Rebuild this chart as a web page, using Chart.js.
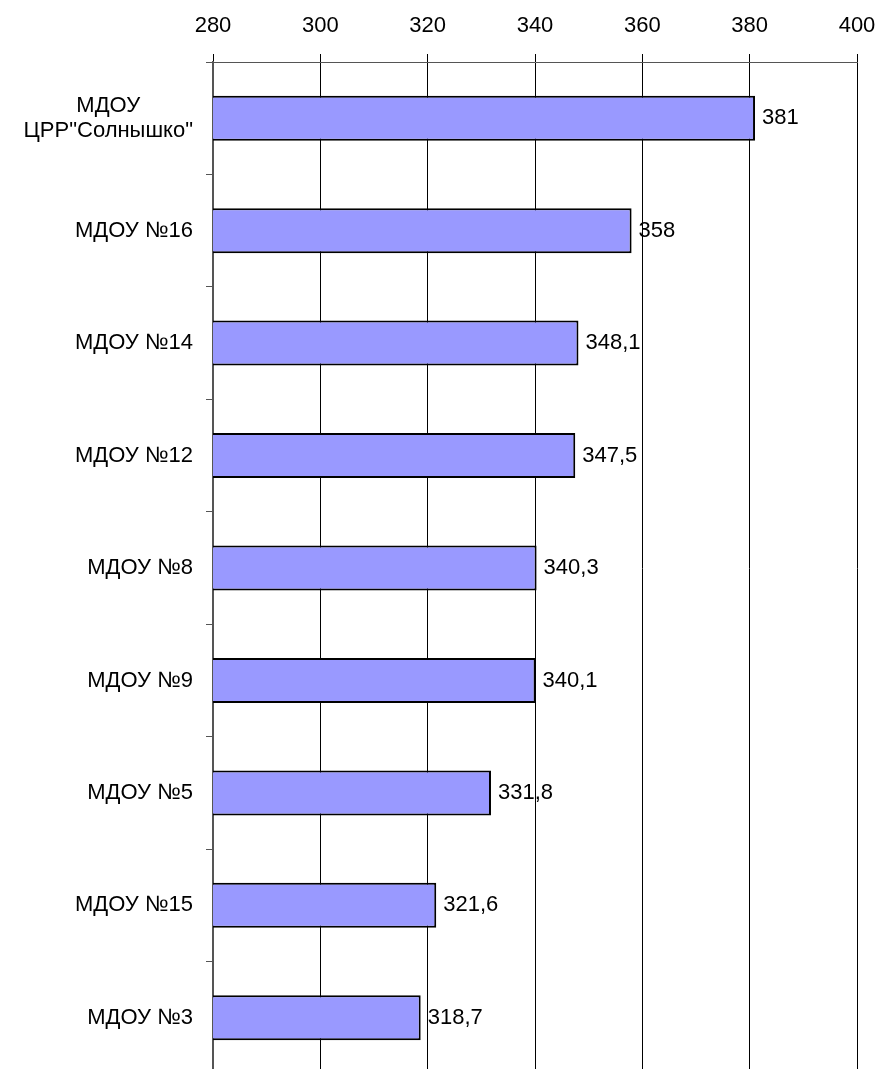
<!DOCTYPE html>
<html>
<head>
<meta charset="utf-8">
<script src="https://cdn.jsdelivr.net/npm/chart.js@4/dist/chart.umd.min.js"></script>
<style>
    html, body { margin: 0; padding: 0; background: #fff; overflow: hidden; }
    canvas { display: block; }
</style>
</head>
<body>
<canvas id="chart" width="879" height="1075"></canvas>
<script>
// Données du graphique
const categories = [
    ['МДОУ', 'ЦРР"Солнышко"'],
    'МДОУ №16',
    'МДОУ №14',
    'МДОУ №12',
    'МДОУ №8',
    'МДОУ №9',
    'МДОУ №5',
    'МДОУ №15',
    'МДОУ №3'
];
const values = [381, 358, 348.1, 347.5, 340.3, 340.1, 331.8, 321.6, 318.7];
const axisMin = 280;
const axisMax = 400;
const axisStep = 20;

const FONT = 'Liberation Sans, Arial, sans-serif';
const TICK_LEN = 7;
const TICK_PAD = 13;

// Étiquettes de valeurs à droite des barres + libellés sur plusieurs lignes centrés
const valueLabels = {
    id: 'valueLabels',
    afterDatasetsDraw(chart) {
        const ctx = chart.ctx;
        const meta = chart.getDatasetMeta(0);
        ctx.save();
        ctx.font = '22px ' + FONT;
        ctx.fillStyle = '#000';
        ctx.textAlign = 'left';
        ctx.textBaseline = 'middle';
        meta.data.forEach((bar, i) => {
            const txt = String(values[i]).replace('.', ',');
            ctx.fillText(txt, bar.x + 7, bar.y);
        });

        // libellés multi-lignes : centrés comme dans Excel
        const yScale = chart.scales.y;
        ctx.textAlign = 'center';
        categories.forEach((cat, i) => {
            if (!Array.isArray(cat)) return;
            const widest = Math.max(...cat.map(l => ctx.measureText(l).width));
            const cx = yScale.right - TICK_LEN - TICK_PAD - widest / 2;
            const cy = yScale.getPixelForTick(i);
            const lh = 25;
            cat.forEach((line, k) => {
                ctx.fillText(line, cx, cy + (k - (cat.length - 1) / 2) * lh);
            });
        });
        ctx.restore();
    }
};

new Chart(document.getElementById('chart'), {
    type: 'bar',
    data: {
        labels: categories,
        datasets: [{
            data: values,
            backgroundColor: '#9999ff',
            borderColor: '#000',
            borderWidth: 2,
            borderSkipped: false,
            categoryPercentage: 1,
            barPercentage: 0.4
        }]
    },
    options: {
        indexAxis: 'y',
        responsive: false,
        animation: false,
        layout: { padding: { left: 0, right: 22, top: 0, bottom: 1 } },
        plugins: {
            legend: { display: false },
            tooltip: { enabled: false }
        },
        scales: {
            x: {
                position: 'top',
                min: axisMin,
                max: axisMax,
                ticks: {
                    stepSize: axisStep,
                    color: '#000',
                    font: { family: FONT, size: 22 },
                    padding: 15
                },
                grid: {
                    color: '#000',
                    lineWidth: 1,
                    tickLength: 8
                },
                border: { color: '#555', width: 1 },
                afterFit(scale) {
                    scale.height = 62;
                    scale.paddingLeft = 0;
                    scale.paddingRight = 0;
                }
            },
            y: {
                offset: true,
                ticks: {
                    color: '#000',
                    font: { family: FONT, size: 22 },
                    padding: TICK_PAD,
                    // les libellés sur plusieurs lignes sont dessinés par le plugin
                    callback: (v, i) => Array.isArray(categories[i]) ? '' : categories[i]
                },
                grid: {
                    offset: true,
                    drawOnChartArea: false,
                    color: '#555',
                    tickLength: TICK_LEN
                },
                border: { color: '#555', width: 2 },
                afterFit(scale) {
                    scale.width = 213;
                    scale.paddingTop = 0;
                    scale.paddingBottom = 0;
                }
            }
        }
    },
    plugins: [valueLabels]
});
</script>
</body>
</html>
